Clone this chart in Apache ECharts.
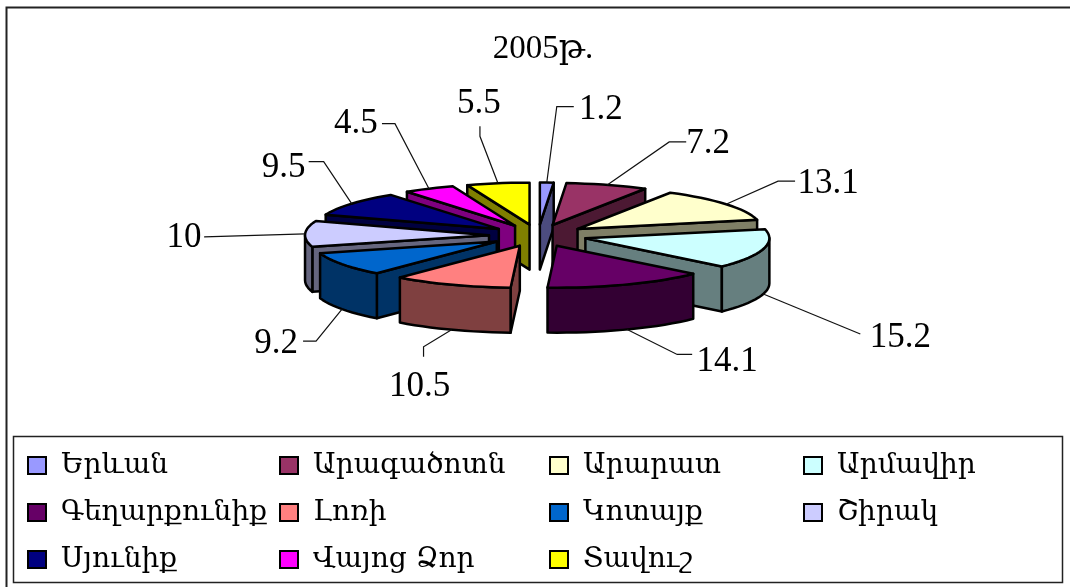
<!DOCTYPE html>
<html><head><meta charset="utf-8">
<style>html,body{margin:0;padding:0;background:#fff}#c{width:1070px;height:587px}</style>
<script src="https://cdn.jsdelivr.net/npm/echarts@6/dist/echarts.min.js"></script>
</head><body><div id="c"></div>
<script>
const regions = ['Երևան','Արագածոտն','Արարատ','Արմավիր','Գեղարքունիք','Լոռի','Կոտայք','Շիրակ','Սյունիք','Վայոց Ձոր','Տավուշ'];
const shares = [1.2,7.2,13.1,15.2,14.1,10.5,9.2,10,9.5,4.5,5.5];
const shareLabels = ['1.2','7.2','13.1','15.2','14.1','10.5','9.2','10','9.5','4.5','5.5'];
const colors = ['#9999FF','#993366','#FFFFCC','#CCFFFF','#660066','#FF8080','#0066CC','#CCCCFF','#000080','#FF00FF','#FFFF00'];
const legendColumns = [[0,4,8],[1,5,9],[2,6,10],[3,7]];
const legendLeft = [27,279,549,803];

// layout of the leader lines, relative to each slice's rim anchor: elbow, end, text centre
const leaders = [
 [10,-76, 27,-76, 54,-73],[62,-43, 79,-43, 101,-41],[52,-23, 69,-23, 102,-20],
 [97,40, 97,40, 137,44],[50,25, 65,25, 100,32],[-28,17, -28,27, -32,57],
 [-26,32, -39,32, -66,35],[-101,3, -101,3, -121,4],[-28,-42, -43,-42, -68,-36],
 [-34,-65, -47,-65, -73,-65],[-18,-47, -18,-57, -19,-79]
];
const P = {cx:538, cy:235.5, ex:49, ey:11, rx:184, ry:42, depth:45};
const SERIF = '"Liberation Serif","DejaVu Serif",serif';
const total = shares.reduce((a,b)=>a+b,0);
const starts = []; shares.reduce((a,v,i)=>{starts[i]=a; return a+v;},0);
const rad = d => d*Math.PI/180;
function darken(hex){const n=parseInt(hex.slice(1),16);
  return `rgb(${(n>>16&255)>>1},${(n>>8&255)>>1},${(n&255)>>1})`;}

function renderSlice(i){
  const a0 = starts[i]/total*360, a1 = (starts[i]+shares[i])/total*360, m=(a0+a1)/2;
  const ax = P.cx+P.ex*Math.sin(rad(m)), ay = P.cy-P.ey*Math.cos(rad(m));
  const rim = a => [ax+P.rx*Math.sin(rad(a)), ay-P.ry*Math.cos(rad(a))];
  const down = p => [p[0],p[1]+P.depth];
  const arc = (s,e)=>{const n=Math.max(2,Math.ceil((e-s)/3)),o=[];for(let k=0;k<=n;k++)o.push(rim(s+(e-s)*k/n));return o;};
  const side = darken(colors[i]);
  const poly = (points,fill)=>({type:'polygon',shape:{points},style:{fill,stroke:'#000',lineWidth:2.5,lineJoin:'round'}});
  const children = [];
  const wall = a => poly([[ax,ay],rim(a),down(rim(a)),down([ax,ay])],side);
  if (Math.sin(rad(a0))<-1e-6) children.push(wall(a0));
  if (Math.sin(rad(a1))>1e-6) children.push(wall(a1));
  const fs=Math.max(a0,90), fe=Math.min(a1,270);
  if (fe>fs){const t=arc(fs,fe); children.push(poly(t.concat(t.map(down).reverse()),side));}
  children.push(poly([[ax,ay]].concat(arc(a0,a1)),colors[i]));
  let an = rim(m); if (Math.cos(rad(m))<0) an = down(an);
  const l = leaders[i];
  children.push({type:'polyline',shape:{points:[an,[an[0]+l[0],an[1]+l[1]],[an[0]+l[2],an[1]+l[3]]]},
    style:{fill:null,stroke:'#111',lineWidth:1.2}});
  children.push({type:'text',x:an[0]+l[4],y:an[1]+l[5],
    style:{text:shareLabels[i],fill:'#000',font:'35px '+SERIF,align:'center',verticalAlign:'middle'}});
  return {type:'group',children};
}
const depthOrder = regions.map((_,i)=>i).sort((p,q)=>
  Math.cos(rad((starts[q]+shares[q]/2)/total*360))-Math.cos(rad((starts[p]+shares[p]/2)/total*360)));

const chart = echarts.init(document.getElementById('c'),null,{renderer:'canvas'});
chart.setOption({
  animation:false,
  backgroundColor:'#fff',
  title:{text:'2005թ.',left:538,top:28,textAlign:'center',textStyle:{fontFamily:SERIF,fontSize:33,fontWeight:'normal',color:'#000'}},
  legend:legendColumns.map((col,c)=>({
    data:col.map(i=>regions[i]),orient:'vertical',left:legendLeft[c],top:449,padding:0,
    icon:'rect',itemWidth:18,itemHeight:17,itemGap:14,selectedMode:false,
    itemStyle:{borderColor:'#000',borderWidth:2},
    textStyle:{fontFamily:'"DejaVu Serif","Noto Sans",serif',fontSize:28,lineHeight:33,color:'#000',padding:[0,0,0,10]}
  })),
  graphic:[
    {type:'polyline',z:-10,shape:{points:[[1070,7.5],[6.5,7.5],[6.5,587]]},style:{fill:null,stroke:'#222',lineWidth:2}},
    {type:'rect',z:-10,shape:{x:13.5,y:436.5,width:1049,height:146},style:{fill:'none',stroke:'#222',lineWidth:1.5}}
  ],
  series:depthOrder.map((i,k)=>({
    type:'custom',name:regions[i],coordinateSystem:'none',z:2+k,silent:true,
    itemStyle:{color:colors[i]},
    data:[[shares[i]]],
    renderItem:()=>renderSlice(i)
  }))
});
</script></body></html>
